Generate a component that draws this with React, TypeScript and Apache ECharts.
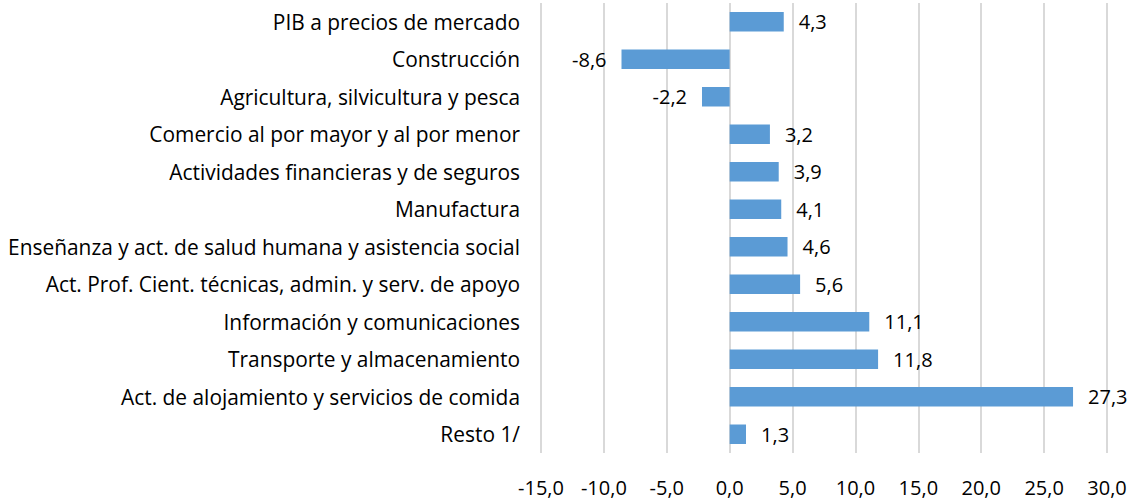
import React, { useEffect, useRef } from "react";
import * as echarts from "echarts";

const categories = [
  "PIB a precios de mercado",
  "Construcción",
  "Agricultura, silvicultura y pesca",
  "Comercio al por mayor y al por menor",
  "Actividades financieras y de seguros",
  "Manufactura",
  "Enseñanza y act. de salud humana y asistencia social",
  "Act. Prof. Cient. técnicas, admin. y serv. de apoyo",
  "Información y comunicaciones",
  "Transporte y almacenamiento",
  "Act. de alojamiento y servicios de comida",
  "Resto 1/",
];
const values = [4.3, -8.6, -2.2, 3.2, 3.9, 4.1, 4.6, 5.6, 11.1, 11.8, 27.3, 1.3];

const fmt = (v: number) => v.toFixed(1).replace(".", ",");
const FONT = "Open Sans";

export default function App() {
  const ref = useRef<HTMLDivElement>(null);
  useEffect(() => {
    const chart = echarts.init(ref.current!, null, { renderer: "svg" });
    chart.setOption({
      animation: false,
      grid: { left: 541, right: 24, top: 3, bottom: 46, containLabel: false },
      xAxis: {
        type: "value",
        min: -15,
        max: 30,
        interval: 5,
        axisLine: { show: false },
        axisTick: { show: false },
        splitLine: { lineStyle: { color: "#D9D9D9", width: 2 } },
        axisLabel: {
          formatter: (v: number) => fmt(v),
          color: "#000",
          fontFamily: FONT,
          fontSize: 20,
          margin: 24,
        },
      },
      yAxis: {
        type: "category",
        data: categories,
        inverse: true,
        axisLine: { show: false, onZero: false },
        axisTick: { show: false },
        axisLabel: { color: "#000", fontFamily: FONT, fontSize: 20.9, margin: 21 },
      },
      series: [
        {
          type: "bar",
          barWidth: "52%",
          itemStyle: { color: "#5B9BD5" },
          data: values.map((v) => ({
            value: v,
            label: { position: v < 0 ? "left" : "right" },
          })),
          label: {
            show: true,
            distance: 15,
            color: "#000",
            fontFamily: FONT,
            fontSize: 20,
            formatter: (p: any) => fmt(p.value),
          },
        },
      ],
    });
    return () => chart.dispose();
  }, []);
  return (
    <div
      ref={ref}
      style={{ position: "absolute", left: 0, top: 0, width: 1131, height: 499 }}
    />
  );
}
